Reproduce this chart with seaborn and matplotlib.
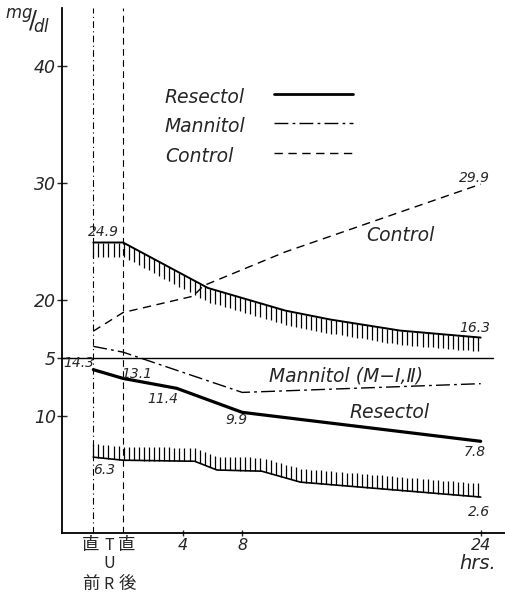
import numpy as np
import matplotlib
matplotlib.use("Agg")
import matplotlib.pyplot as plt
import seaborn as sns

# ---- data ----
resectol_x = [-2, 0, 3.6, 8, 24]
resectol_y = [14.0, 13.25, 12.4, 10.34, 7.86]

mannitol_x = [-2, 0, 8, 24]
mannitol_y = [16.0, 15.5, 12.05, 12.8]

control_x = [-2, 0, 4.7, 5.4, 10.9, 24]
control_y = [17.3, 18.9, 20.3, 21.2, 24.1, 29.9]

upper_x = [-2, 0, 5.7, 10.9, 13.9, 18.6, 24]
upper_y = [24.9, 24.9, 21.0, 19.06, 18.3, 17.35, 16.75]

lower_x = [-2, 0, 4.8, 6.3, 9.3, 11.9, 24]
lower_y = [6.5, 6.24, 6.15, 5.4, 5.3, 4.36, 3.08]

ytick_vals = [10, 15, 20, 30, 40]
ytick_labels = ["10", "5", "20", "30", "40"]
xtick_vals = [4, 8, 24]
xtick_labels = ["4", "8", "24"]

value_labels = ["24.9", "29.9", "16.3", "14.3", "13.1", "11.4", "9.9", "7.8", "6.3", "2.6"]
value_label_pos = [(-1.3, 25.8), (23.6, 30.4), (23.6, 17.6), (-3.0, 14.6), (0.9, 13.6),
                   (2.7, 11.5), (7.6, 9.7), (23.6, 6.9), (-1.3, 5.4), (23.9, 1.8)]

sns.set_style("white")
plt.rcParams["font.family"] = ["DejaVu Sans", "Noto Sans CJK JP"]

fig = plt.figure(figsize=(5.06, 5.93), dpi=100)
ax = fig.add_axes([62 / 506, 60 / 593, 444 / 506, 525 / 593])
ax.set_xlim(-4.1, 25.7)
ax.set_ylim(0, 45)

k = "black"
sns.lineplot(x=resectol_x, y=resectol_y, ax=ax, color=k, lw=2.3, sort=False, estimator=None)
sns.lineplot(x=mannitol_x, y=mannitol_y, ax=ax, color=k, lw=1.0, sort=False, estimator=None,
             linestyle=(0, (10, 3, 2, 3)))
sns.lineplot(x=control_x, y=control_y, ax=ax, color=k, lw=1.0, sort=False, estimator=None,
             linestyle=(0, (6, 4)))
sns.lineplot(x=upper_x, y=upper_y, ax=ax, color=k, lw=1.4, sort=False, estimator=None)
sns.lineplot(x=lower_x, y=lower_y, ax=ax, color=k, lw=1.2, sort=False, estimator=None)

# hatching
hx = np.arange(upper_x[0], upper_x[-1] + 1e-6, 0.34)
hy = np.interp(hx, upper_x, upper_y)
ax.vlines(hx, hy - 1.2, hy, color=k, lw=0.9)
lx = np.arange(lower_x[0], lower_x[-1] + 1e-6, 0.34)
ly = np.interp(lx, lower_x, lower_y)
ax.vlines(lx, ly, ly + 1.15, color=k, lw=0.9)

# reference lines
ax.axhline(15, xmax=0.97, color=k, lw=1.0)
ax.axvline(-2, color=k, lw=0.8, linestyle=(0, (6, 3, 1, 3)))
ax.axvline(0, color=k, lw=0.8, linestyle=(0, (6, 4)))

# legend (manual)
leg_names = ["Resectol", "Mannitol", "Control"]
leg_y = [37.6, 35.1, 32.6]
leg_styles = [dict(lw=2.0, linestyle="-"), dict(lw=1.0, linestyle=(0, (10, 3, 2, 3))),
              dict(lw=1.0, linestyle=(0, (6, 4)))]
for name, yy, st in zip(leg_names, leg_y, leg_styles):
    ax.text(2.8, yy - 0.3, name, fontsize=13.5, style="italic", va="center", ha="left")
    ax.plot([10.1, 15.4], [yy, yy], color=k, **st)

# in-plot labels
ax.text(18.6, 25.5, "Control", fontsize=13.5, style="italic", ha="center", va="center")
ax.text(9.8, 13.5, "Mannitol (M−Ⅰ,Ⅱ)", fontsize=13.5, style="italic", ha="left", va="center")
ax.text(15.2, 10.3, "Resectol", fontsize=13.5, style="italic", ha="left", va="center")
for t, (px, py) in zip(value_labels, value_label_pos):
    ax.text(px, py, t, fontsize=10, style="italic", ha="center", va="center")

# axes styling
for s in ["top", "right"]:
    ax.spines[s].set_visible(False)
for s in ["left", "bottom"]:
    ax.spines[s].set_color(k)
    ax.spines[s].set_linewidth(1.3)
ax.set_yticks(ytick_vals)
ax.set_yticklabels(ytick_labels, fontsize=12.5, style="italic")
ax.set_xticks(xtick_vals)
ax.set_xticklabels(xtick_labels, fontsize=11.5, style="italic")
ax.tick_params(axis="y", direction="inout", length=7, width=1.0, pad=1, left=True)
ax.tick_params(axis="x", direction="inout", length=5, width=1.0, pad=1, bottom=True)

# mg/dl unit label
fig.text(28 / 506, 1 - 22 / 593, r"$^{mg}\!/\!_{dl}$", fontsize=17, ha="center", va="center")

# time labels under x axis
jp = ["Noto Sans CJK JP", "DejaVu Sans"]
ax.text(-2.15, -1.03, "直", fontsize=12.5, family=jp, ha="center", va="center", clip_on=False)
ax.text(-2.15, -4.4, "前", fontsize=12.5, family=jp, ha="center", va="center", clip_on=False)
ax.text(-0.95, -1.03, "T", fontsize=11.5, family=jp, ha="center", va="center", clip_on=False)
ax.text(-0.95, -2.6, "U", fontsize=11.5, family=jp, ha="center", va="center", clip_on=False)
ax.text(-0.95, -4.4, "R", fontsize=11.5, family=jp, ha="center", va="center", clip_on=False)
ax.text(0.25, -1.03, "直", fontsize=12.5, family=jp, ha="center", va="center", clip_on=False)
ax.text(0.25, -4.4, "後", fontsize=12.5, family=jp, ha="center", va="center", clip_on=False)
ax.text(23.8, -2.6, "hrs.", fontsize=14, style="italic", ha="center", va="center", clip_on=False)

fig.savefig("out.png", dpi=100)
